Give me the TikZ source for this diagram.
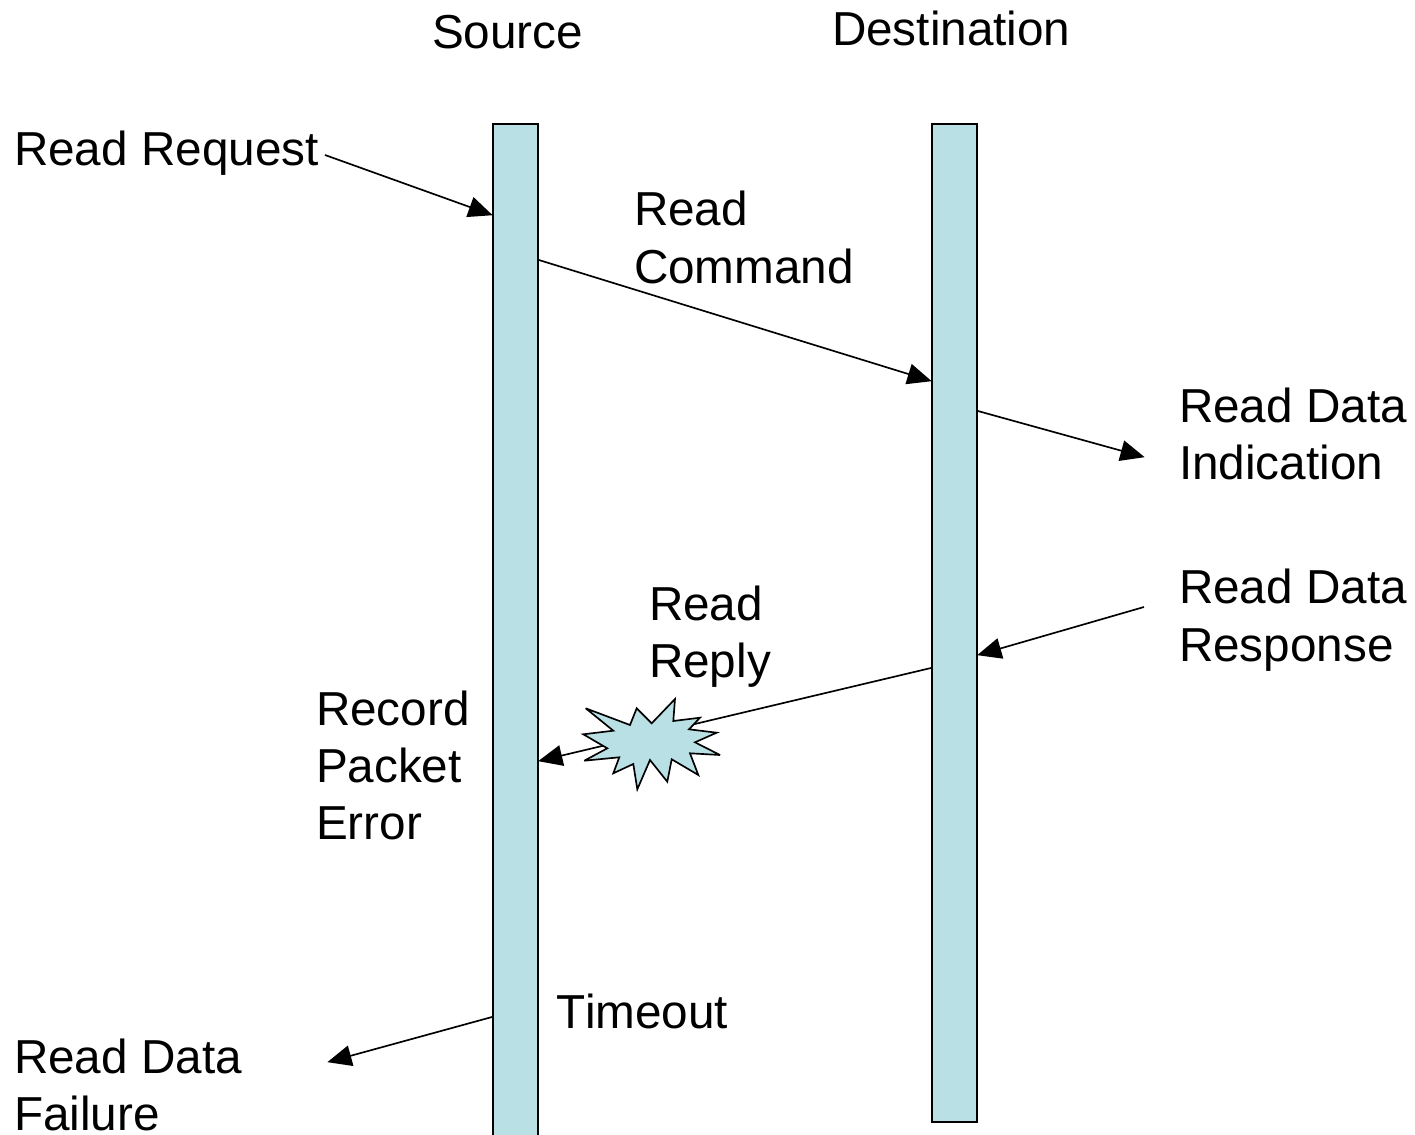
\documentclass[tikz,border=0pt]{standalone}
\usepackage{fontspec}
\setmainfont[Kerning=Off]{Liberation Sans}
\usetikzlibrary{arrows.meta}
\definecolor{barfill}{RGB}{185,224,228}
\tikzset{
  lbl/.style={anchor=base west,inner sep=0pt,outer sep=0pt,font=\fontsize{28.6pt}{34pt}\selectfont,text=black},
  bar/.style={draw=black,fill=barfill,line width=1.1pt,minimum width=27pt,inner sep=0pt,anchor=north west},
  flow/.style={draw=black,line width=1pt,-{Triangle[length=14.5pt,width=12.5pt]},shorten >=-0.4pt}
}
\begin{document}
\begin{tikzpicture}[x=0.6pt,y=-0.6pt]
\useasboundingbox (0,0) rectangle (1415,1135);
\node[bar,minimum height=612pt] (src) at (492,123.5) {};
\node[bar,minimum height=598.8pt] (dst) at (931,123.5) {};
\node[lbl] (tsrc) at (432,49) {Source};
\node[lbl] (tdst) at (832,46) {Destination};
\node[lbl] (rr) at (14,166) {Read Request};
\node[lbl] (rc1) at (634,226) {Read};
\node[lbl] (rc2) at (634,284) {Command};
\node[lbl] (ri1) at (1179,423) {Read Data};
\node[lbl] (ri2) at (1179,480) {Indication};
\node[lbl] (rs1) at (1179,604) {Read Data};
\node[lbl] (rs2) at (1179,661.5) {Response};
\node[lbl] (rp1) at (649,620) {Read};
\node[lbl] (rp2) at (649,677) {Reply};
\node[lbl] (re1) at (316,725) {Record};
\node[lbl] (re2) at (316,782) {Packet};
\node[lbl] (re3) at (316,839.5) {Error};
\node[lbl] (to) at (556,1028) {Timeout};
\node[lbl] (rf1) at (14,1073) {Read Data};
\node[lbl] (rf2) at (14,1130) {Failure};
\coordinate (a0) at (325,155);
\coordinate (a1) at (src.west |- 0,215);
\coordinate (b0) at (src.east |- 0,260);
\coordinate (b1) at (dst.west |- 0,381);
\coordinate (c0) at (dst.east |- 0,411);
\coordinate (c1) at (1144,457);
\coordinate (d0) at (1144,607);
\coordinate (d1) at (dst.east |- 0,655);
\coordinate (e0) at (dst.west |- 0,668);
\coordinate (e1) at (src.east |- 0,761);
\coordinate (f0) at (src.west |- 0,1017);
\coordinate (f1) at (328,1062);
\draw[flow] (a0) -- (a1);
\draw[flow] (b0) -- (b1);
\draw[flow] (c0) -- (c1);
\draw[flow] (d0) -- (d1);
\draw[flow] (e0) -- (e1);
\draw[flow] (f0) -- (f1);
\draw[draw=black,fill=barfill,line width=1pt,line join=miter,miter limit=4]
 (585.7,708.3) -- (630,725) -- (636.7,708.3) -- (651.7,723.3) -- (675,699) -- (673.3,721)
 -- (700,717.7) -- (689,729.3) -- (716.7,732.7) -- (695,742.3) -- (720,755)
 -- (690,753.3) -- (698.3,775) -- (671.7,759.3) -- (667.3,781.7) -- (650,760)
 -- (637.3,789.3) -- (633.3,764) -- (613.3,773.3) -- (619.3,757.3) -- (584.3,760.7)
 -- (607.3,748.3) -- (583.3,734.3) -- (613.3,730.7) -- cycle;
\end{tikzpicture}
\end{document}
